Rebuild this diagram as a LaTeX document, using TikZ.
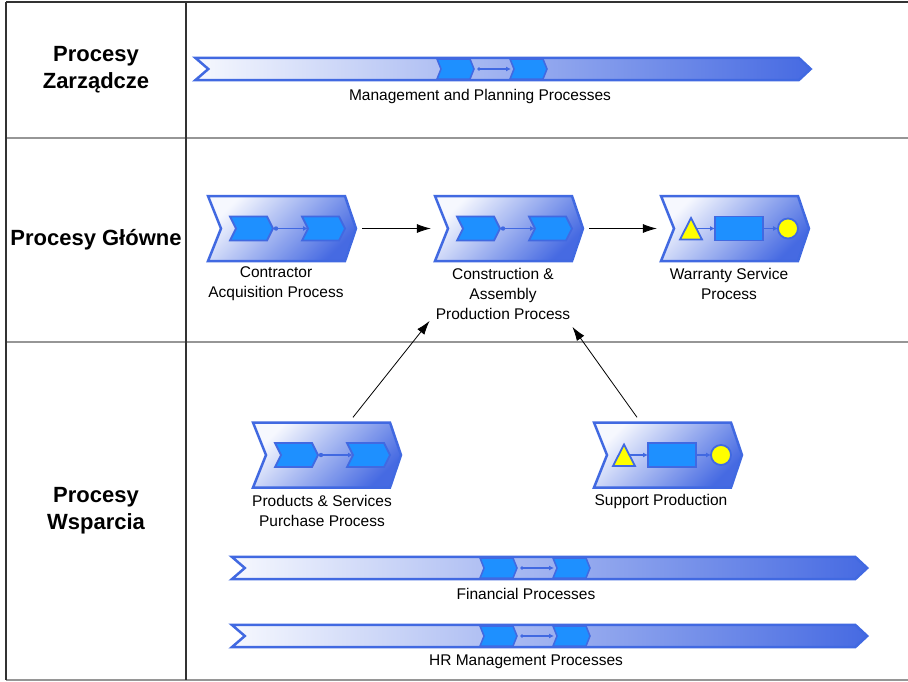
\documentclass[tikz,border=0pt]{standalone}
\usepackage{fontspec}
\setmainfont{Liberation Sans}
\usetikzlibrary{arrows.meta,calc}

\definecolor{edgeblue}{RGB}{65,105,225}
\definecolor{stepblue}{RGB}{30,144,255}
\definecolor{paleblue}{RGB}{246,248,254}
\definecolor{deepblue}{RGB}{70,106,226}
\definecolor{gridgray}{RGB}{150,150,150}
\definecolor{griddark}{RGB}{50,50,50}
\definecolor{markyellow}{RGB}{255,255,0}

\tikzset{
  lane/.style={font=\fontsize{22}{27}\selectfont\bfseries, align=center, inner sep=0pt},
  lbl/.style={font=\fontsize{15.5}{20}\selectfont, align=center, inner sep=0pt},
  boxspace/.style={minimum width=148pt, minimum height=65pt, inner sep=0pt, draw=none},
  bandspace/.style={minimum height=22pt, inner sep=0pt, draw=none},
  procedge/.style={draw=edgeblue, line width=2.5pt, line join=miter},
  boxfill/.style={top color=paleblue, bottom color=deepblue, shading angle=45},
  bandfill/.style={left color=paleblue, right color=deepblue},
  stepstyle/.style={fill=stepblue, draw=edgeblue, line width=1.8pt, line join=miter},
  markstyle/.style={fill=markyellow, draw=edgeblue, line width=1.8pt, line join=miter},
  linkstyle/.style={draw=edgeblue, line width=1.8pt, -{Latex[length=5pt,width=5pt]}},
  flow/.style={draw=black, line width=0.8pt, -{Latex[length=14pt,width=9pt]}},
  % process box outline: notch on the left, point on the right
  procframe/.pic={
    \path[procedge, boxfill] (-74,-32.5) -- (63,-32.5) -- (74,0) -- (63,32.5)
      -- (-74,32.5) -- (-61,0) -- cycle;
  },
  % two sub-steps joined by a link
  twosteps/.pic={
    \path[stepstyle] (-52,-12) -- (-15,-12) -- (-9,0) -- (-15,12) -- (-52,12) -- (-46,0) -- cycle;
    \path[stepstyle] (20,-12) -- (57,-12) -- (63,0) -- (57,12) -- (20,12) -- (26,0) -- cycle;
    \fill[edgeblue] (-6,0) circle (2.2);
    \draw[linkstyle] (-6,0) -- (26,0);
  },
  % event, function, event chain
  eventchain/.pic={
    \path[markstyle] (-55,11) -- (-44,-10.5) -- (-33,11) -- cycle;
    \path[stepstyle] (-20,-12) rectangle (28,12);
    \path[markstyle] (53,0) circle (10);
    \draw[linkstyle] (-38,0) -- (-20,0);
    \draw[linkstyle] (28,0) -- (43,0);
  },
  % sub-steps embedded in a long band
  bandsteps/.pic={
    \path[stepstyle, line width=1.5pt] (0,-10) -- (33,-10) -- (37,0) -- (33,10) -- (0,10) -- (4,0) -- cycle;
    \path[stepstyle, line width=1.5pt] (73,-10) -- (106,-10) -- (110,0) -- (106,10) -- (73,10) -- (77,0) -- cycle;
    \fill[edgeblue] (42,0) circle (1.8);
    \draw[linkstyle, line width=1.5pt] (42,0) -- (74,0);
  },
}

\newcommand{\bandoutline}[1]{%
  \path[procedge, bandfill] (#1.north west) -- ($(#1.north east)+(-12,0)$) -- (#1.east)
    -- ($(#1.south east)+(-12,0)$) -- (#1.south west) -- ($(#1.west)+(13,0)$) -- cycle;}

\begin{document}
\begin{tikzpicture}[x=1pt, y=-1pt]
\useasboundingbox (0,0) rectangle (908,681);

% table frame
\draw[gridgray, line width=1.5pt] (6,138) -- (908,138);
\draw[gridgray, line width=1.5pt] (6,342) -- (908,342);
\draw[gridgray, line width=1.5pt] (6,680) -- (908,680);
\draw[griddark, line width=1.2pt] (6,2) -- (908,2);
\draw[griddark, line width=1.2pt] (6,2) -- (6,680);
\draw[griddark, line width=1.2pt] (186,2) -- (186,680);

% lane headers
\node[lane] (laneA) at (96,70) {Procesy\\Zarządcze};
\node[lane] (laneB) at (96,240) {Procesy Główne};
\node[lane] (laneC) at (96,511) {Procesy\\Wsparcia};

% management band
\node[bandspace, minimum width=615pt] (mgmt) at (503,69) {};
\bandoutline{mgmt}
\pic at (437,69) {bandsteps};
\node[lbl] (mgmtlbl) at (480,96) {Management and Planning Processes};

% core processes
\node[boxspace] (contr) at (282,228.5) {};
\pic at (contr) {procframe};
\pic at (contr) {twosteps};
\node[lbl] (contrlbl) at (276,284) {Contractor\\Acquisition Process};

\node[boxspace] (constr) at (509,228.5) {};
\pic at (constr) {procframe};
\pic at (constr) {twosteps};
\node[lbl] (constrlbl) at (503,294) {Construction \&\\Assembly\\Production Process};

\node[boxspace] (warr) at (735,228.5) {};
\pic at (warr) {procframe};
\pic at (warr) {eventchain};
\node[lbl] (warrlbl) at (729,284) {Warranty Service\\Process};

% support processes
\node[boxspace] (purch) at (327,455) {};
\pic at (purch) {procframe};
\pic at (purch) {twosteps};
\node[lbl] (purchlbl) at (322,511) {Products \& Services\\Purchase Process};

\node[boxspace] (supp) at (668,455) {};
\pic at (supp) {procframe};
\pic at (supp) {eventchain};
\node[lbl] (supplbl) at (661,501) {Support Production};

\node[bandspace, minimum width=635pt] (fin) at (549.5,568) {};
\bandoutline{fin}
\pic at (480,568) {bandsteps};
\node[lbl] (finlbl) at (526,594) {Financial Processes};

\node[bandspace, minimum width=635pt] (hr) at (549.5,636) {};
\bandoutline{hr}
\pic at (480,636) {bandsteps};
\node[lbl] (hrlbl) at (526,662) {HR Management Processes};

% flows
\draw[flow] ($(contr.east)+(6,0)$) -- ($(constr.west)+(-4,0)$);
\draw[flow] ($(constr.east)+(6,0)$) -- ($(warr.west)+(-4,0)$);
\draw[flow] ($(purch.north)+(26,-5)$) -- ($(constrlbl.south west)+(-6,1)$);
\draw[flow] ($(supp.north)+(-31,-5)$) -- ($(constrlbl.south east)+(2,7)$);
\end{tikzpicture}
\end{document}
